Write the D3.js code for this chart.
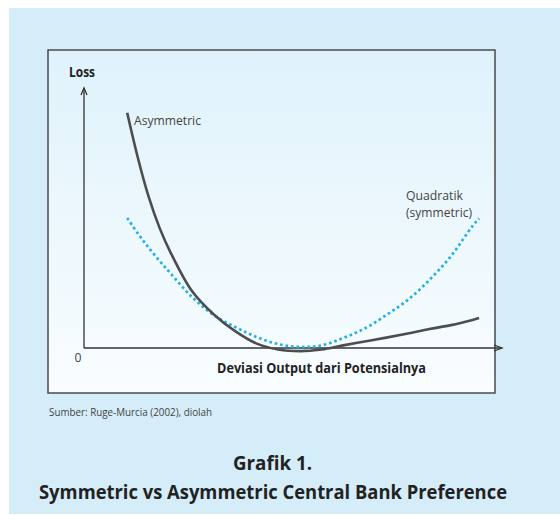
<!DOCTYPE html>
<html>
<head>
<meta charset="utf-8">
<script src="https://cdn.jsdelivr.net/npm/d3@7"></script>
<style>
  html, body { margin: 0; padding: 0; background: #ffffff; }
  svg { display: block; }
</style>
</head>
<body>
<svg id="chart" width="560" height="515"></svg>
<script>
// ---- data (abstract units) ----
const deviation = [-4, -3.75, -3.5, -3.25, -3, -2.5, -2, -1.5, -1, -0.5, 0, 0.5, 1, 1.5, 2, 2.5, 3, 3.5, 4, 4.15];
const asymmetricLoss = [9.05, 7.3, 5.8, 4.62, 3.69, 2.19, 1.3, 0.65, 0.17, -0.06, -0.12, -0.06, 0.1, 0.25, 0.4, 0.56, 0.73, 0.88, 1.08, 1.15];
const quadraticLoss  = [5.0, 4.4, 3.85, 3.35, 2.88, 1.96, 1.27, 0.81, 0.42, 0.15, 0.04, 0.1, 0.38, 0.75, 1.27, 1.85, 2.62, 3.54, 4.7, 4.98];
const yAxisLabel = "Loss";
const xAxisLabel = "Deviasi Output dari Potensialnya";
const originLabel = "0";
const seriesLabels = ["Asymmetric", "Quadratik", "(symmetric)"];
const sourceText = "Sumber: Ruge-Murcia (2002), diolah";
const titleLines = ["Grafik 1.", "Symmetric vs Asymmetric Central Bank Preference"];

const svg = d3.select("#chart");
const defs = svg.append("defs");
const grad = defs.append("linearGradient").attr("id", "boxGrad")
  .attr("x1", 0).attr("y1", 0).attr("x2", 0).attr("y2", 1);
grad.append("stop").attr("offset", "0%").attr("stop-color", "#dff2fb");
grad.append("stop").attr("offset", "100%").attr("stop-color", "#f9fdff");

// outer panel
svg.append("rect").attr("x", 9).attr("y", 8).attr("width", 551).attr("height", 506)
  .attr("fill", "#d5edf9");
// inner box
svg.append("rect").attr("x", 48).attr("y", 50).attr("width", 447).attr("height", 343)
  .attr("fill", "url(#boxGrad)").attr("stroke", "#4a4a4a").attr("stroke-width", 1.5);

// scales
const x = d3.scaleLinear().domain([-5, 4.68]).range([84, 502]);
const y = d3.scaleLinear().domain([0, 10]).range([348, 88]);

const axisColor = "#333";
const g = svg.append("g");
// axes lines
g.append("line").attr("x1", x(-5)).attr("x2", x(4.68)).attr("y1", y(0)).attr("y2", y(0))
  .attr("stroke", axisColor).attr("stroke-width", 1.3);
g.append("line").attr("x1", x(-5)).attr("x2", x(-5)).attr("y1", y(0)).attr("y2", y(10))
  .attr("stroke", axisColor).attr("stroke-width", 1.3);
// arrowheads
g.append("path").attr("d", `M${x(-5)-3},${y(10)+7} L${x(-5)},${y(10)} L${x(-5)+3},${y(10)+7}`)
  .attr("fill", "none").attr("stroke", axisColor).attr("stroke-width", 1.3);
g.append("path").attr("d", `M${x(4.68)-8},${y(0)-3} L${x(4.68)},${y(0)} L${x(4.68)-8},${y(0)+3}`)
  .attr("fill", "none").attr("stroke", axisColor).attr("stroke-width", 1.3);

const line = d3.line().curve(d3.curveCatmullRom.alpha(0.5))
  .x((d, i) => x(deviation[i])).y(d => y(d));

g.append("path").datum(quadraticLoss).attr("d", line)
  .attr("fill", "none").attr("stroke", "#1fb0e8").attr("stroke-width", 2.7)
  .attr("stroke-dasharray", "2.6,2.9");
g.append("path").datum(asymmetricLoss).attr("d", line)
  .attr("fill", "none").attr("stroke", "#4d4d4f").attr("stroke-width", 2.6);

const narrow = "'Liberation Sans Narrow', 'Open Sans', sans-serif";
function txt(s, xx, yy, opts) {
  const t = svg.append("text").attr("x", xx).attr("y", yy).text(s)
    .attr("font-family", opts.family || narrow)
    .attr("font-size", opts.size).attr("fill", opts.fill || "#333")
    .attr("font-weight", opts.weight || "normal");
  if (opts.len) t.attr("textLength", opts.len).attr("lengthAdjust", "spacingAndGlyphs");
  if (opts.anchor) t.attr("text-anchor", opts.anchor);
  return t;
}
txt(yAxisLabel, 69, 77, {size: 13.5, weight: "bold", len: 26, fill: "#222"});
txt(originLabel, 74.5, 362, {size: 13, len: 7, fill: "#444"});
txt(xAxisLabel, 217, 373, {size: 13.5, weight: "bold", len: 209, fill: "#222"});
txt(seriesLabels[0], 134, 125, {size: 13.5, len: 67, fill: "#444"});

// two-line label for the symmetric curve
txt(seriesLabels[1], 406, 200, {size: 12.5, len: 57, fill: "#444"});
txt(seriesLabels[2], 406, 217, {size: 12.5, len: 66, fill: "#444"});

txt(sourceText, 49, 416, {size: 10.5, len: 163, fill: "#444"});
txt(titleLines[0], 272.5, 470, {size: 19.5, weight: "bold", anchor: "middle", family: "'Open Sans', sans-serif", len: 79, fill: "#222"});
txt(titleLines[1], 273, 499, {size: 19.5, weight: "bold", anchor: "middle", family: "'Open Sans', sans-serif", len: 468, fill: "#222"});
</script>
</body>
</html>
